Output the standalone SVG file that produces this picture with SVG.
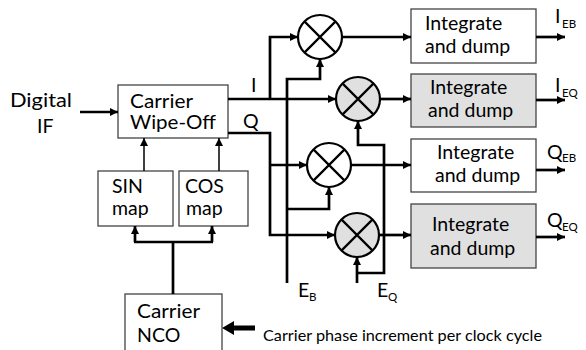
<svg xmlns="http://www.w3.org/2000/svg" width="586" height="350" viewBox="0 0 586 350">
<defs>
<marker id="ah" viewBox="0 0 10 10" refX="10" refY="5" markerWidth="9" markerHeight="8" markerUnits="userSpaceOnUse" orient="auto"><path d="M0,0 L10,5 L0,10 z" fill="#000"/></marker>
</defs>
<style>
text{font-family:Lato,"Liberation Sans",sans-serif;fill:#000}
.t{font-size:19.5px}
.s{font-size:11.5px}
.box{fill:#fff;stroke:#444;stroke-width:1.3}
.gbox{fill:#e0e0e0;stroke:#444;stroke-width:1.3}
.mul{fill:#fff;stroke:#000;stroke-width:2.2}
.gmul{fill:#e0e0e0;stroke:#000;stroke-width:2.2}
.x{stroke:#000;stroke-width:2.2;fill:none}
.w{fill:none;stroke:#000;stroke-width:2.7}
.wa{fill:none;stroke:#000;stroke-width:2.7;marker-end:url(#ah)}
.ta{fill:none;stroke:#000;stroke-width:1.5;marker-end:url(#ah)}
</style>
<rect width="586" height="350" fill="#fff"/>

<g id="input">
<text class="t" x="10" y="107" textLength="62" lengthAdjust="spacingAndGlyphs">Digital</text>
<text class="t" x="37" y="133">IF</text>
</g>

<g id="wipeoff">
<rect class="box" x="118" y="85" width="110" height="53"/>
<text class="t" x="130" y="108" textLength="63" lengthAdjust="spacingAndGlyphs">Carrier</text>
<text class="t" x="130" y="129" textLength="86" lengthAdjust="spacingAndGlyphs">Wipe-Off</text>
</g>

<g id="sinmap">
<rect class="box" x="98" y="171" width="75" height="55"/>
<text class="t" x="112" y="193">SIN</text>
<text class="t" x="112" y="215">map</text>
</g>

<g id="cosmap">
<rect class="box" x="179" y="171" width="69" height="55"/>
<text class="t" x="185" y="193">COS</text>
<text class="t" x="186" y="215">map</text>
</g>

<g id="nco">
<rect class="box" x="125" y="294" width="97" height="70"/>
<text class="t" x="137" y="318" textLength="63" lengthAdjust="spacingAndGlyphs">Carrier</text>
<text class="t" x="137" y="342">NCO</text>
</g>

<g id="phase">
<path d="M255,325.5 H234 V321 L222,328 L234,335 V330.5 H255 Z" fill="#000"/>
<text x="263" y="341" style="font-size:16px" textLength="279" lengthAdjust="spacingAndGlyphs">Carrier phase increment per clock cycle</text>
</g>

<g id="mult1">
<circle class="mul" cx="320" cy="37" r="22"/>
<path class="x" d="M304.4,21.4 L335.6,52.6 M335.6,21.4 L304.4,52.6"/>
</g>
<g id="mult2">
<circle class="gmul" cx="358" cy="99" r="22"/>
<path class="x" d="M342.4,83.4 L373.6,114.6 M373.6,83.4 L342.4,114.6"/>
</g>
<g id="mult3">
<circle class="mul" cx="329" cy="165" r="22"/>
<path class="x" d="M313.4,149.4 L344.6,180.6 M344.6,149.4 L313.4,180.6"/>
</g>
<g id="mult4">
<circle class="gmul" cx="357" cy="235" r="22"/>
<path class="x" d="M341.4,219.4 L372.6,250.6 M372.6,219.4 L341.4,250.6"/>
</g>

<g id="int1">
<rect class="box" x="411" y="9" width="125" height="54"/>
<text class="t" x="425" y="30">Integrate</text>
<text class="t" x="425" y="53">and dump</text>
</g>
<g id="int2">
<rect class="gbox" x="411" y="74" width="125" height="53"/>
<text class="t" x="430" y="94">Integrate</text>
<text class="t" x="428" y="117">and dump</text>
</g>
<g id="int3">
<rect class="box" x="411" y="139" width="125" height="53"/>
<text class="t" x="437" y="159">Integrate</text>
<text class="t" x="435" y="182">and dump</text>
</g>
<g id="int4">
<rect class="gbox" x="411" y="204" width="125" height="64"/>
<text class="t" x="432" y="231">Integrate</text>
<text class="t" x="430" y="255">and dump</text>
</g>

<g id="labels">
<text class="t" x="251" y="92">I</text>
<text class="t" x="243" y="128">Q</text>
<text class="t" x="555" y="23">I</text><text class="s" x="562" y="28">EB</text>
<text class="t" x="555" y="92">I</text><text class="s" x="562" y="97">EQ</text>
<text class="t" x="547" y="159">Q</text><text class="s" x="562" y="162">EB</text>
<text class="t" x="547" y="227">Q</text><text class="s" x="562" y="231">EQ</text>
<text class="t" x="298" y="297">E</text><text class="s" x="309" y="301">B</text>
<text class="t" x="377" y="297">E</text><text class="s" x="388" y="301">Q</text>
</g>

<g id="connectors">
<path class="wa" d="M80,112 H118"/>
<path class="ta" d="M144,171 V138"/>
<path class="ta" d="M219,171 V138"/>
<path class="w" d="M173,294 V242 M134,242 H213"/>
<path class="wa" d="M135,242 V226"/>
<path class="wa" d="M212,242 V226"/>
<path class="wa" d="M228,99 H336"/>
<path class="wa" d="M270,99 V37 H298"/>
<path class="wa" d="M228,133 H270 V235 H335"/>
<path class="wa" d="M270,165 H307"/>
<path class="wa" d="M287,283 V79 H320 V59"/>
<path class="wa" d="M287,209 H329 V187"/>
<path class="wa" d="M357,283 V257"/>
<path class="wa" d="M357,273 H384 V145 H358 V121"/>
<path class="wa" d="M342,37 H411"/>
<path class="wa" d="M380,99 H411"/>
<path class="wa" d="M351,165 H411"/>
<path class="wa" d="M379,235 H411"/>
<path class="wa" d="M536,37 H565"/>
<path class="wa" d="M536,100 H565"/>
<path class="wa" d="M536,170 H565"/>
<path class="wa" d="M536,237 H565"/>
</g>
</svg>
